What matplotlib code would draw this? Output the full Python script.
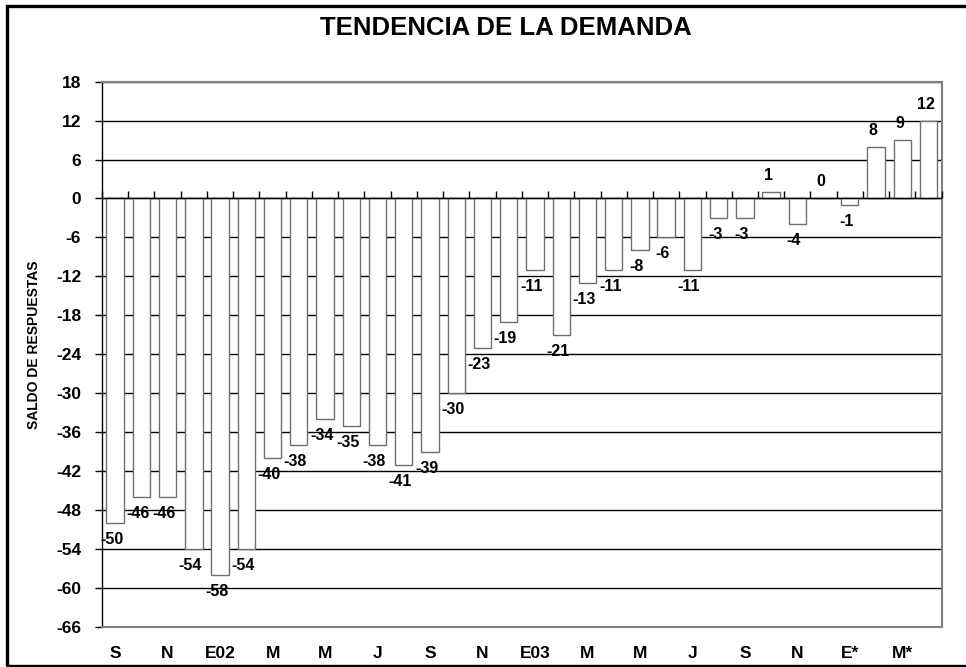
import matplotlib.pyplot as plt
import matplotlib.patches as mpatches
import numpy as np

plt.rcParams['font.family'] = ['Liberation Sans', 'DejaVu Sans']
plt.rcParams['font.weight'] = 'bold'
plt.rcParams['axes.unicode_minus'] = False

# saldo de respuestas, sep 2001 .. abr 2004
valores = [-50, -46, -46, -54, -58, -54, -40, -38, -34, -35, -38, -41, -39, -30,
           -23, -19, -11, -21, -13, -11, -8, -6, -11, -3, -3, 1, -4, 0, -1, 8, 9, 12]
etiquetas = ['S', 'N', 'E02', 'M', 'M', 'J', 'S', 'N', 'E03', 'M', 'M', 'J',
             'S', 'N', 'E*', 'M*']
yticks = np.arange(-66, 19, 6)

x = np.arange(len(valores))

fig = plt.figure(figsize=(9.66, 6.67), dpi=100)
ax = fig.add_axes([0.1056, 0.0604, 0.8692, 0.8171])

ax.set_axisbelow(True)
ax.yaxis.grid(True, color='black', linewidth=1.0)
bars = ax.bar(x, valores, width=0.66, color='white', edgecolor='#707070',
              linewidth=1.0, zorder=3)

# etiquetas de datos, un poco desplazadas a la izquierda como en el original
for xi, v in zip(x, valores):
    if v < 0:
        ax.annotate(str(v), (xi, v), xytext=(-2.5, -6.5), textcoords='offset points',
                    ha='center', va='top', fontsize=11.5, fontweight='bold', zorder=5)
    else:
        ax.annotate(str(v), (xi, v), xytext=(-2, 6.5), textcoords='offset points',
                    ha='center', va='bottom', fontsize=11.5, fontweight='bold', zorder=5)

# eje de categorias sobre el cero, con marcas hacia arriba
ax.axhline(0, color='black', linewidth=1.0, zorder=4)
ax.plot(np.arange(len(valores) + 1) - 0.5, np.zeros(len(valores) + 1),
        linestyle='none', marker=2, markersize=5, markeredgewidth=1.0,
        color='black', zorder=4, clip_on=False)

ax.set_xlim(-0.5, len(valores) - 0.5)
ax.set_ylim(-66, 18)
ax.set_yticks(yticks)
ax.set_xticks(x[::2])
ax.set_xticklabels(etiquetas)
ax.tick_params(axis='y', length=5, width=1.0, pad=10, labelsize=12.5)
ax.tick_params(axis='x', length=0, pad=14, labelsize=12.5)

for s in ['top', 'right', 'bottom']:
    ax.spines[s].set_color('#808080')
    ax.spines[s].set_linewidth(1.5)
ax.spines['left'].set_color('black')
ax.spines['left'].set_linewidth(1.0)

ax.set_ylabel('SALDO DE RESPUESTAS', fontsize=10, fontweight='bold')
ax.yaxis.set_label_coords(-0.0726, 0.517)
fig.text(0.524, 0.958, 'TENDENCIA DE LA DEMANDA', ha='center', va='center',
         fontsize=18.5, fontweight='bold')

# marco del grafico
fig.patches.append(mpatches.Rectangle((0.0072, 0.0022), 1.05, 0.9881,
                                      transform=fig.transFigure, fill=False,
                                      edgecolor='black', linewidth=2.4))

fig.savefig('out.png', dpi=100)
